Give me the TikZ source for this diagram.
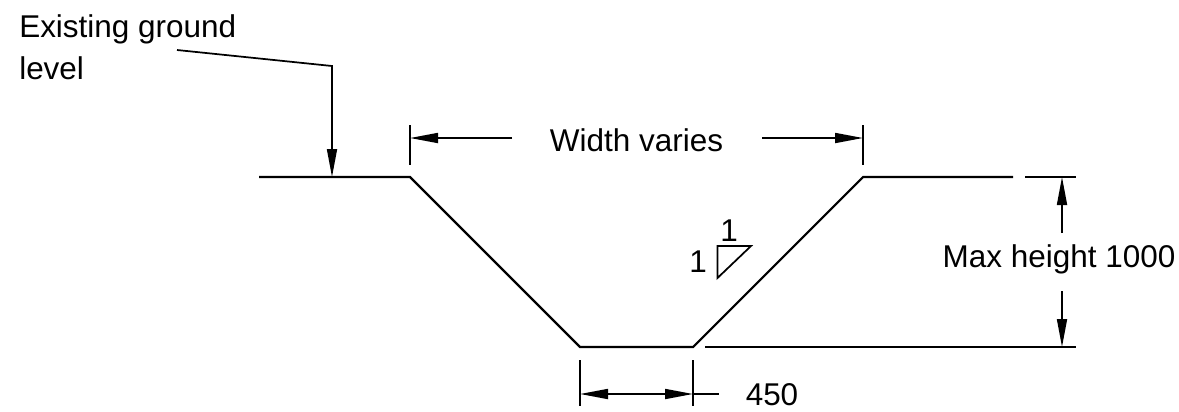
\documentclass[tikz,border=0pt]{standalone}
\usepackage{fontspec}
\setmainfont{Liberation Sans}
\usetikzlibrary{arrows.meta}

\begin{document}
\begin{tikzpicture}[
  x=0.75pt, y=-0.75pt,
  >={Triangle[length=21pt, width=7.5pt]},
  lbl/.style={inner sep=0pt, align=left, font=\fontsize{23.6}{31}\selectfont},
  profile/.style={-, line width=1.6pt},
  dim/.style={-, line width=1.3pt},
  arw/.style={->, line width=1.3pt}
  ]

\useasboundingbox (0,0) rectangle (1179,411);

\coordinate (g1) at (259,177);
\coordinate (g2) at (410,177);
\coordinate (b1) at (580,347);
\coordinate (b2) at (693,347);
\coordinate (g3) at (863,177);
\coordinate (g4) at (1013,177);
\coordinate (g5) at (1025,177);
\coordinate (g6) at (1076,177);
\coordinate (b3) at (705,347);
\coordinate (b4) at (1076,347);

\draw [profile] (g1) -- (g2) -- (b1) -- (b2) -- (g3) -- (g4);
\draw [profile] (g5) -- (g6);
\draw [profile] (b3) -- (b4);

\node [lbl, anchor=base west] (ground) at (19,79) {Existing ground\\level};
\coordinate (lead1) at (177,50);
\coordinate (lead2) at (332,66);
\coordinate (lead3) at (332,177);
\draw [arw] (lead1) -- (lead2) -- (lead3);

\node [lbl] (width) at (636.5,140) {Width varies};
\coordinate (wt1) at (410,125);
\coordinate (wb1) at (410,165);
\coordinate (wt2) at (863,125);
\coordinate (wb2) at (863,165);
\coordinate (wa1) at (512,138);
\coordinate (wa2) at (410,138);
\coordinate (wa3) at (762,138);
\coordinate (wa4) at (863,138);
\draw [dim] (wt1) -- (wb1);
\draw [dim] (wt2) -- (wb2);
\draw [arw] (wa1) -- (wa2);
\draw [arw] (wa3) -- (wa4);

\coordinate (s1) at (717.5,246);
\coordinate (s2) at (751,246);
\coordinate (s3) at (717.5,278);
\draw [dim] (s1) -- (s2) -- (s3) -- cycle;
\node [lbl] (slopex) at (729,230.5) {1};
\node [lbl] (slopey) at (698,262) {1};

\node [lbl] (base) at (772,395) {450};
\coordinate (bt1) at (580,360);
\coordinate (bb1) at (580,406);
\coordinate (bt2) at (693,360);
\coordinate (bb2) at (693,406);
\coordinate (ba1) at (580,394);
\coordinate (ba2) at (693,394);
\coordinate (ba3) at (719,394);
\draw [dim] (bt1) -- (bb1);
\draw [dim] (bt2) -- (bb2);
\draw [dim] (ba2) -- (ba3);
\draw [arw, <->] (ba1) -- (ba2);

\node [lbl] (height) at (1059,259) {Max height 1000};
\coordinate (ha1) at (1062,233);
\coordinate (ha2) at (1062,177);
\coordinate (ha3) at (1062,291);
\coordinate (ha4) at (1062,347);
\draw [arw] (ha1) -- (ha2);
\draw [arw] (ha3) -- (ha4);

\end{tikzpicture}
\end{document}
